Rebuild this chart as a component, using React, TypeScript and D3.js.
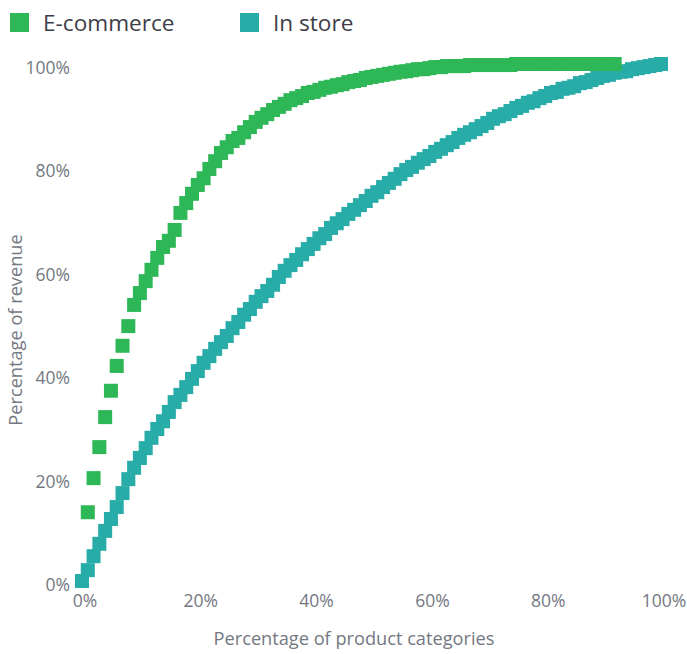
import React from "react";
import * as d3 from "d3";

const seriesNames = ["E-commerce", "In store"];
const seriesColors = ["#2eb757", "#28aca8"];

// E-commerce: x = 1..92 (% of product categories)
const ecommerceX = d3.range(1, 93);
const ecommerceY = [
  13.3, 19.9, 25.9, 31.7, 36.8, 41.6, 45.5, 49.3, 53.4, 55.7,
  58.0, 60.2, 62.5, 64.6, 65.8, 67.9, 71.2, 73.1, 74.9, 76.6,
  77.9, 79.7, 81.2, 82.8, 83.9, 85.1, 85.7, 86.8, 87.8, 88.8,
  89.6, 90.3, 91.1, 91.7, 92.3, 93.0, 93.4, 93.8, 94.4, 94.6,
  95.0, 95.4, 95.6, 95.9, 96.1, 96.5, 96.7, 96.9, 97.3, 97.5,
  97.7, 97.9, 98.1, 98.3, 98.5, 98.6, 98.8, 99.0, 99.0, 99.2,
  99.4, 99.4, 99.6, 99.6, 99.6, 99.6, 99.8, 99.8, 99.8, 99.8,
  99.8, 99.8, 99.8, 99.8, 100, 100, 100, 100, 100, 100,
  100, 100, 100, 100, 100, 100, 100, 100, 100, 100,
  100, 100,
];

// In store: x = 0..100
const inStoreX = d3.range(0, 101);
const inStoreY = [
  0.0, 2.1, 4.8, 7.2, 9.7, 12.0, 14.3, 17.0, 19.7, 21.9,
  23.8, 25.7, 27.7, 29.4, 30.9, 32.7, 34.6, 36.0, 37.5, 39.1,
  40.6, 42.2, 43.5, 44.9, 46.2, 47.4, 48.9, 50.1, 51.5, 52.6,
  54.0, 55.1, 56.1, 57.3, 58.8, 60.0, 61.1, 62.1, 63.2, 64.2,
  65.2, 66.3, 67.1, 68.3, 69.2, 70.0, 71.0, 71.8, 72.7, 73.5,
  74.5, 75.2, 76.2, 77.0, 77.8, 78.7, 79.5, 80.1, 80.9, 81.6,
  82.2, 83.0, 83.6, 84.3, 84.9, 85.7, 86.3, 86.8, 87.4, 88.0,
  88.6, 89.4, 89.9, 90.3, 90.9, 91.5, 91.9, 92.5, 92.8, 93.4,
  93.8, 94.4, 94.6, 95.2, 95.4, 95.7, 96.3, 96.5, 96.9, 97.3,
  97.7, 97.9, 98.3, 98.5, 98.6, 99.0, 99.2, 99.4, 99.6, 99.8,
  100,
];

const xTicks = [0, 20, 40, 60, 80, 100];
const yTicks = [0, 20, 40, 60, 80, 100];

const W = 687;
const H = 654;
const FONT = "'Open Sans', 'Noto Sans', sans-serif";

export default function App() {
  const x = d3.scaleLinear().domain([0, 100]).range([82, 661]);
  const y = d3.scaleLinear().domain([0, 100]).range([581, 64]);
  const size = 14;
  const fmt = (v: number) => `${v}%`;

  const series = [
    { xs: inStoreX, ys: inStoreY, color: seriesColors[1] },
    { xs: ecommerceX, ys: ecommerceY, color: seriesColors[0] },
  ];

  const legendX = [10, 240];

  return (
    <svg
      width={W}
      height={H}
      style={{ position: "absolute", left: 0, top: 0, background: "#fff" }}
      fontFamily={FONT}
    >
      {/* legend */}
      {seriesNames.map((n, i) => (
        <g key={n} transform={`translate(${legendX[i]},13)`}>
          <rect width={19} height={19} fill={seriesColors[i]} />
          <text x={33} y={18} fontSize={22.6} fill="#3d3d48">
            {n}
          </text>
        </g>
      ))}

      {/* y tick labels */}
      {yTicks.map((t) => (
        <text
          key={`y${t}`}
          x={70}
          y={y(t) + 10}
          textAnchor="end"
          fontSize={17.5}
          fill="#747882"
        >
          {fmt(t)}
        </text>
      ))}

      {/* x tick labels */}
      {xTicks.map((t) => (
        <text
          key={`x${t}`}
          x={x(t) + 3}
          y={607}
          textAnchor="middle"
          fontSize={17.5}
          fill="#747882"
        >
          {fmt(t)}
        </text>
      ))}

      {/* axis titles */}
      <text x={354} y={645} textAnchor="middle" fontSize={18.2} fill="#747882">
        Percentage of product categories
      </text>
      <text
        transform={`translate(22,330) rotate(-90)`}
        textAnchor="middle"
        fontSize={18.2}
        fill="#747882"
      >
        Percentage of revenue
      </text>

      {/* points */}
      {series.map((s, si) => (
        <g key={si}>
          {s.xs.map((xv, i) => (
            <rect
              key={i}
              x={x(xv) - size / 2}
              y={y(s.ys[i]) - size / 2}
              width={size}
              height={size}
              fill={s.color}
            />
          ))}
        </g>
      ))}
    </svg>
  );
}
